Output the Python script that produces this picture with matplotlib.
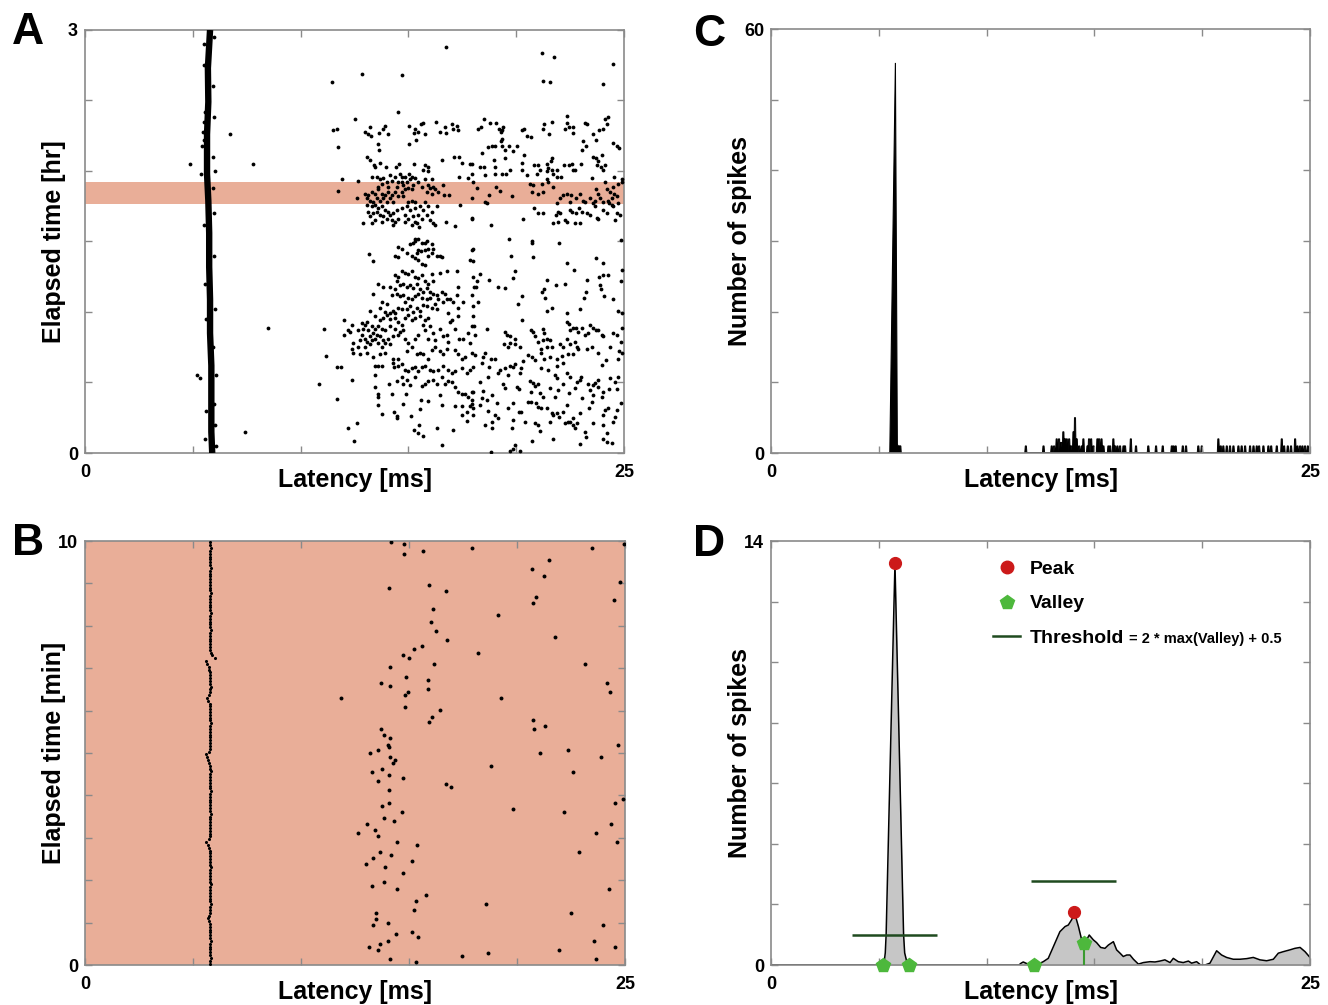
import matplotlib
matplotlib.use('Agg')
import matplotlib.pyplot as plt
from matplotlib.lines import Line2D

plt.rcParams['font.family'] = ['Liberation Sans', 'DejaVu Sans']
plt.rcParams['font.weight'] = 'bold'
plt.rcParams['axes.labelweight'] = 'bold'

# ---------------- DATA ----------------
# Panel A: time-locked (first) response band, latency [ms] vs elapsed time [hr]
a_line_lat = [5.90, 5.86, 5.86, 5.86, 5.80, 5.80, 5.76, 5.76, 5.72, 5.66, 5.66, 5.72, 5.70, 5.80]
a_line_hr = [0.00, 0.15, 0.38, 0.62, 0.85, 1.09, 1.32, 1.56, 1.79, 1.98, 2.26, 2.49, 2.73, 3.00]
# Panel A: scattered spikes (latency ms, time hr)
a_pts_left = [(6.74, 2.26), (4.88, 2.05), (7.77, 2.05), (8.5, 0.89), (5.18, 0.55), (5.33, 0.53), (7.42, 0.15),
              (5.37, 1.98), (6.02, 2.0), (5.45, 2.28), (5.5, 2.22), (5.42, 2.18), (5.52, 2.35), (5.95, 2.1),
              (5.98, 1.4), (6.0, 0.35), (6.05, 0.2), (5.55, 0.1), (5.95, 2.6), (5.5, 2.75), (5.96, 0.75), (5.58, 1.2),
              (5.52, 2.9), (6.0, 2.95), (5.98, 1.7), (5.52, 1.62), (6.04, 1.02), (5.62, 0.95), (6.06, 0.55),
              (5.62, 0.3), (6.08, 0.05), (5.58, 2.42), (5.98, 2.38), (5.94, 1.88)]
a_pts_upper_mid = [
    (16.73, 2.88), (12.83, 2.69), (14.72, 2.68), (11.47, 2.63), (14.52, 2.42), (12.53, 2.37), (11.52, 2.29),
    (11.69, 2.30), (12.99, 2.28), (13.11, 2.26), (13.25, 2.25), (13.22, 2.31), (13.64, 2.27), (13.84, 2.30),
    (13.92, 2.32), (14.07, 2.26), (15.05, 2.32), (15.31, 2.30), (15.28, 2.27), (15.59, 2.33), (15.69, 2.34),
    (15.46, 2.28), (15.77, 2.26), (16.28, 2.35), (16.47, 2.28), (16.70, 2.31), (16.73, 2.27), (17.04, 2.33),
    (17.09, 2.30), (17.27, 2.32), (17.29, 2.29), (11.75, 2.17), (13.61, 2.19), (13.64, 2.15), (15.05, 2.19),
    (15.34, 2.22), (13.10, 2.10), (13.22, 2.08), (13.39, 2.04), (13.45, 2.03), (13.68, 2.06), (13.96, 2.03),
    (14.43, 2.03), (14.57, 2.05), (15.25, 2.05), (15.77, 2.04), (15.90, 2.03), (15.69, 2.01), (15.93, 2.00),
    (16.54, 2.08), (17.13, 2.10), (17.36, 2.10), (17.47, 2.06), (17.86, 2.05), (11.91, 1.94), (12.65, 1.93),
    (13.33, 1.96), (13.53, 1.96), (13.68, 1.94), (13.84, 1.95), (14.15, 1.97), (14.38, 1.96), (14.61, 1.98),
    (14.72, 1.96), (14.84, 1.96), (15.05, 1.98), (15.15, 1.96), (15.31, 1.95), (15.08, 1.94), (14.92, 1.92),
    (14.72, 1.92), (14.54, 1.92), (14.23, 1.93), (14.00, 1.92), (13.76, 1.91), (13.61, 1.89), (14.07, 1.89),
    (14.46, 1.89), (14.77, 1.90), (15.23, 1.90), (15.46, 1.92), (15.77, 1.94), (16.08, 1.94), (17.36, 1.96),
    (17.78, 1.95), (17.94, 1.98), (18.01, 1.92),
    (11.75, 1.86), (12.60, 1.81), (12.99, 1.84), (13.14, 1.83), (13.30, 1.85), (13.45, 1.84), (13.61, 1.87),
    (13.76, 1.84), (13.92, 1.83), (14.07, 1.85), (14.23, 1.83), (14.38, 1.85), (14.69, 1.85), (14.84, 1.87),
    (15.00, 1.88), (14.54, 1.82), (14.77, 1.82), (15.15, 1.87), (15.62, 1.89), (15.93, 1.90), (16.00, 1.88),
    (16.16, 1.89), (16.24, 1.87), (15.85, 1.85), (16.08, 1.84), (16.39, 1.85), (16.62, 1.90), (16.67, 1.83),
    (16.88, 1.83), (15.77, 1.78), (13.07, 1.81), (13.22, 1.79), (13.38, 1.78), (13.53, 1.81), (13.68, 1.79),
    (13.84, 1.81), (14.00, 1.78), (14.15, 1.81), (14.30, 1.78), (15.15, 1.79), (15.31, 1.78), (15.00, 1.78),
    (13.07, 1.76), (13.30, 1.75), (13.45, 1.76), (13.61, 1.74), (13.76, 1.75), (13.92, 1.72), (14.07, 1.71),
    (14.15, 1.69), (14.30, 1.70), (14.46, 1.72), (13.14, 1.71), (13.38, 1.70), (13.53, 1.71), (13.68, 1.69),
    (13.84, 1.68), (14.00, 1.66), (14.23, 1.65), (14.38, 1.64), (14.54, 1.66), (13.22, 1.68), (13.45, 1.65),
    (14.69, 1.74), (14.92, 1.75), (15.08, 1.72), (15.31, 1.74), (15.54, 1.75), (15.69, 1.72), (15.93, 1.75),
    (16.08, 1.71), (16.31, 1.75), (14.84, 1.69), (15.00, 1.66), (15.23, 1.68), (15.46, 1.69), (15.62, 1.66),
    (15.85, 1.69), (16.00, 1.65), (16.16, 1.63), (16.24, 1.62), (15.31, 1.64), (15.39, 1.63), (15.15, 1.62),
    (14.84, 1.64), (12.91, 1.63), (13.30, 1.63), (13.76, 1.64), (14.30, 1.62), (15.49, 1.60), (16.73, 1.64),
    (17.16, 1.61), (17.40, 1.76), (17.94, 1.66), (15.31, 1.52), (15.46, 1.52), (15.77, 1.49), (15.23, 1.49)]
a_pts_upper_right = [
    (21.21, 2.84), (21.77, 2.81), (24.51, 2.76), (21.26, 2.64), (21.57, 2.63), (24.01, 2.62), (18.52, 2.37),
    (18.79, 2.34), (19.07, 2.34), (18.25, 2.30), (18.35, 2.31), (19.22, 2.30), (19.33, 2.29), (19.41, 2.31),
    (19.28, 2.28), (20.26, 2.29), (20.36, 2.30), (20.52, 2.25), (20.67, 2.24), (21.23, 2.30), (21.29, 2.33),
    (21.52, 2.26), (21.68, 2.35), (22.34, 2.39), (22.34, 2.34), (22.27, 2.30), (22.47, 2.31), (22.65, 2.31),
    (22.65, 2.27), (23.19, 2.34), (23.27, 2.33), (23.58, 2.26), (23.70, 2.22), (23.86, 2.29), (24.04, 2.30),
    (24.20, 2.33), (24.12, 2.37), (24.28, 2.38), (24.51, 2.20), (24.69, 2.18), (24.77, 2.16), (19.33, 2.23),
    (19.30, 2.21), (18.71, 2.17), (18.86, 2.18), (19.02, 2.18), (19.33, 2.18), (19.48, 2.15), (19.68, 2.18),
    (19.87, 2.14), (20.06, 2.18), (18.40, 2.13), (17.94, 2.05), (18.32, 2.03), (18.52, 2.03), (18.56, 1.97),
    (18.97, 2.08), (19.02, 2.03), (19.02, 1.98), (19.33, 1.98), (19.53, 1.98), (19.48, 2.09), (19.72, 2.01),
    (20.26, 2.06), (20.38, 2.11), (20.49, 1.97), (20.26, 2.01), (20.84, 2.04), (21.03, 2.04), (21.11, 2.01),
    (20.95, 1.98), (21.42, 2.05), (21.49, 2.02), (21.60, 2.07), (21.65, 2.09), (21.45, 2.00), (21.65, 2.01),
    (21.73, 1.98), (21.88, 2.01), (21.91, 1.96), (22.07, 1.96), (22.22, 2.04), (22.47, 2.04), (22.58, 2.05),
    (22.65, 2.01), (22.73, 2.01), (23.01, 2.05), (23.09, 2.21), (23.24, 2.18), (23.04, 2.15), (23.58, 2.10),
    (23.70, 2.09), (23.81, 2.07), (23.97, 2.11), (23.73, 2.04), (23.94, 2.03), (24.12, 2.04), (24.04, 2.01),
    (23.50, 1.95), (24.55, 1.96), (24.89, 1.94),
    (18.17, 1.88), (18.76, 1.83), (19.07, 1.89), (19.25, 1.86), (19.79, 1.82), (20.64, 1.91), (20.80, 1.90),
    (20.72, 1.85), (21.03, 1.84), (21.23, 1.85), (21.18, 1.91), (21.45, 1.94), (21.49, 1.92), (21.73, 1.89),
    (22.03, 1.81), (22.19, 1.83), (22.34, 1.84), (22.53, 1.83), (22.50, 1.78), (22.78, 1.81), (22.96, 1.84),
    (23.12, 1.79), (23.70, 1.87), (23.81, 1.84), (23.89, 1.81), (24.12, 1.92), (24.20, 1.87), (24.35, 1.85),
    (24.51, 1.89), (24.74, 1.91), (24.89, 1.92), (24.66, 1.82), (24.55, 1.84), (24.43, 1.81), (24.28, 1.79),
    (24.04, 1.78), (23.66, 1.79), (23.43, 1.81), (23.19, 1.78), (17.94, 1.81), (18.56, 1.78), (18.66, 1.77),
    (17.94, 1.67), (18.82, 1.62), (20.30, 1.66), (20.84, 1.74), (21.03, 1.70), (21.26, 1.70), (21.91, 1.77),
    (21.96, 1.71), (21.85, 1.69), (22.03, 1.70), (21.96, 1.64), (21.73, 1.63), (22.27, 1.65), (22.34, 1.64),
    (22.50, 1.72), (22.58, 1.71), (22.78, 1.70), (22.93, 1.74), (23.04, 1.71), (22.73, 1.63), (22.96, 1.63),
    (23.27, 1.70), (23.43, 1.69), (23.58, 1.77), (23.66, 1.75), (23.81, 1.66), (23.73, 1.67), (24.01, 1.72),
    (24.20, 1.70), (24.32, 1.77), (24.43, 1.76), (24.51, 1.75), (24.66, 1.70), (24.82, 1.69), (24.59, 1.65),
    (24.74, 1.77), (19.67, 1.52), (20.72, 1.50), (22.00, 1.49), (24.85, 1.51)]
a_pts_lower_mid = [
    (14.50, 1.46), (14.72, 1.45), (15.08, 1.48), (15.31, 1.50), (15.62, 1.49), (15.85, 1.50), (16.08, 1.48),
    (14.38, 1.40), (14.54, 1.39), (14.92, 1.42), (15.15, 1.40), (15.31, 1.38), (15.46, 1.37), (15.62, 1.34),
    (15.77, 1.33), (15.93, 1.40), (16.08, 1.42), (16.16, 1.45), (16.31, 1.40), (16.47, 1.40), (16.54, 1.39),
    (13.19, 1.41), (13.38, 1.36), (17.86, 1.37), (17.94, 1.44), (15.39, 1.42), (15.59, 1.43), (15.77, 1.44),
    (15.93, 1.45), (15.46, 1.44),
    (14.38, 1.26), (14.54, 1.25), (14.72, 1.29), (14.84, 1.28), (15.00, 1.27), (15.15, 1.29), (15.31, 1.25),
    (15.46, 1.24), (15.62, 1.26), (15.77, 1.22), (15.93, 1.20), (16.08, 1.27), (16.16, 1.22), (14.46, 1.22),
    (14.61, 1.19), (14.77, 1.20), (14.92, 1.18), (15.08, 1.19), (15.23, 1.17), (15.39, 1.20), (15.54, 1.16),
    (15.69, 1.14), (15.85, 1.17), (16.00, 1.14), (16.16, 1.13), (16.31, 1.12), (16.54, 1.14), (16.70, 1.13),
    (14.38, 1.16), (14.15, 1.18), (14.23, 1.12), (14.46, 1.13), (14.61, 1.11), (14.77, 1.12), (14.84, 1.07),
    (15.00, 1.10), (15.15, 1.09), (15.31, 1.11), (15.46, 1.13), (15.62, 1.10), (15.85, 1.09), (16.00, 1.10),
    (16.24, 1.06), (16.39, 1.09), (16.62, 1.07), (16.78, 1.09), (16.93, 1.09), (17.09, 1.07), (13.58, 1.20),
    (13.38, 1.13), (13.84, 1.18), (14.00, 1.06), (13.76, 1.07), (13.68, 1.03), (13.92, 1.00), (14.15, 0.995),
    (14.30, 1.01), (14.38, 0.99), (14.54, 1.03), (14.69, 1.02), (14.92, 1.02), (15.08, 1.04), (15.23, 1.00),
    (15.39, 1.03), (15.54, 1.01), (15.69, 1.05), (15.85, 1.04), (16.08, 1.03), (16.31, 1.02), (16.47, 1.28),
    (16.81, 1.29), (17.24, 1.29), (17.32, 1.18), (17.24, 1.12), (17.55, 1.07), (18.01, 1.25), (18.06, 1.18),
    (17.97, 1.12), (17.32, 1.03), (16.82, 0.99), (18.01, 0.97), (18.06, 0.90),
    (13.22, 1.01), (13.45, 0.97), (13.68, 0.94), (13.84, 0.96), (14.00, 0.98), (14.15, 0.95), (14.38, 0.96),
    (14.54, 0.93), (14.69, 0.91), (14.84, 0.96), (15.00, 0.98), (15.15, 0.94), (15.31, 0.96), (15.54, 0.97),
    (15.77, 0.94), (15.93, 0.96), (13.07, 0.93), (12.99, 0.91), (12.83, 0.92), (12.68, 0.87), (12.91, 0.88),
    (13.14, 0.87), (13.30, 0.90), (13.45, 0.88), (13.61, 0.90), (13.76, 0.88), (13.92, 0.87), (14.15, 0.90),
    (14.38, 0.88), (14.61, 0.86), (14.77, 0.87), (13.38, 0.85), (13.53, 0.84), (13.22, 0.83), (12.99, 0.81),
    (12.83, 0.84), (12.76, 0.80), (13.07, 0.79), (13.30, 0.80), (13.45, 0.81), (13.68, 0.83), (13.84, 0.80),
    (14.07, 0.81), (14.30, 0.83), (14.54, 0.84), (13.61, 0.78), (13.76, 0.75), (13.92, 0.78), (14.15, 0.77),
    (12.45, 0.78), (12.37, 0.74), (12.68, 0.75), (12.99, 0.75), (13.22, 0.77), (12.03, 0.94), (12.22, 0.87),
    (12.40, 0.91), (12.29, 0.86), (12.03, 0.84), (11.10, 0.88), (14.84, 0.81), (15.00, 0.78), (15.31, 0.81),
    (15.46, 0.84), (15.77, 0.87), (15.69, 0.91), (16.00, 0.90), (16.16, 0.85), (15.93, 0.81), (16.24, 0.80),
    (16.47, 0.88), (16.62, 0.83), (16.78, 0.84), (16.93, 0.93), (17.01, 0.94), (17.16, 0.88), (17.32, 0.97),
    (17.35, 0.81), (17.55, 0.81), (17.78, 0.85), (17.86, 0.78), (17.94, 0.90), (16.85, 0.79),
    (12.45, 0.71), (12.76, 0.70), (13.07, 0.71), (13.38, 0.68), (13.68, 0.70), (13.92, 0.71), (14.30, 0.67),
    (14.54, 0.67), (14.92, 0.72), (15.15, 0.75), (15.39, 0.70), (15.54, 0.71), (15.69, 0.70), (15.93, 0.67),
    (16.08, 0.73), (16.24, 0.75), (16.47, 0.72), (16.62, 0.70), (16.78, 0.74), (17.16, 0.73), (17.32, 0.70),
    (17.47, 0.67), (17.63, 0.68), (17.94, 0.71), (11.18, 0.69), (11.67, 0.61), (11.88, 0.61), (13.45, 0.62),
    (13.61, 0.62), (13.76, 0.62), (14.30, 0.64), (14.35, 0.61), (14.54, 0.62), (14.69, 0.63), (14.84, 0.59),
    (15.00, 0.58), (15.15, 0.60), (15.31, 0.61), (15.46, 0.58), (15.62, 0.61), (15.77, 0.62), (16.00, 0.59),
    (16.16, 0.58), (16.39, 0.59), (16.62, 0.62), (16.85, 0.59), (17.01, 0.57), (17.16, 0.58), (17.47, 0.60),
    (17.70, 0.57), (17.86, 0.59), (12.40, 0.52), (13.45, 0.55), (14.10, 0.49), (14.46, 0.51), (14.72, 0.54),
    (14.77, 0.49), (14.92, 0.52), (15.08, 0.48), (15.31, 0.54), (15.62, 0.475), (15.77, 0.49), (15.93, 0.51),
    (16.16, 0.52), (16.31, 0.49), (16.54, 0.54), (16.70, 0.49), (16.85, 0.51), (17.01, 0.50), (17.16, 0.47),
    (17.32, 0.435), (17.47, 0.42), (17.63, 0.42), (17.78, 0.40), (17.94, 0.435), (10.87, 0.49),
    (11.67, 0.38), (13.45, 0.47), (13.61, 0.42), (13.61, 0.40), (14.23, 0.42), (14.87, 0.42), (15.59, 0.376),
    (15.93, 0.37), (16.47, 0.41), (14.77, 0.35), (13.61, 0.34), (13.76, 0.28), (14.35, 0.29), (14.46, 0.26),
    (14.49, 0.25), (15.12, 0.26), (15.54, 0.31), (16.54, 0.34), (17.16, 0.33), (17.47, 0.33), (17.47, 0.27),
    (17.70, 0.29), (17.86, 0.33), (17.94, 0.376), (17.70, 0.23), (18.01, 0.27), (15.49, 0.20), (15.28, 0.16),
    (15.46, 0.14), (15.66, 0.12), (16.31, 0.175), (17.09, 0.16), (12.22, 0.18), (12.60, 0.21), (12.49, 0.085),
    (16.54, 0.06)]
a_pts_lower_right = [
    (18.01, 1.45), (17.98, 1.36), (19.76, 1.40), (20.72, 1.49), (20.77, 1.39), (22.34, 1.35), (22.68, 1.30),
    (23.69, 1.38), (24.01, 1.35), (24.89, 1.30), (24.85, 1.22), (18.32, 1.27), (18.20, 1.22), (18.12, 1.18),
    (18.73, 1.23), (19.17, 1.18), (19.48, 1.17), (19.84, 1.24), (19.95, 1.29), (21.45, 1.23), (21.29, 1.16),
    (21.21, 1.14), (21.34, 1.10), (21.85, 1.19), (22.27, 1.20), (23.27, 1.23), (23.24, 1.14), (23.16, 1.10),
    (23.86, 1.25), (24.04, 1.26), (24.28, 1.26), (23.89, 1.19), (23.94, 1.16), (24.09, 1.11), (24.51, 1.09),
    (20.26, 1.11), (20.07, 1.06), (18.25, 1.07), (18.01, 1.04), (21.45, 1.01), (21.65, 1.03), (22.34, 0.99),
    (22.96, 1.02), (24.74, 1.01), (24.89, 0.99), (20.29, 0.94), (18.63, 0.88), (18.09, 0.84), (19.48, 0.86),
    (19.56, 0.84), (19.72, 0.83), (19.95, 0.81), (19.72, 0.78), (19.95, 0.77), (20.18, 0.75), (19.64, 0.75),
    (19.45, 0.77), (20.69, 0.87), (20.80, 0.86), (21.23, 0.88), (21.29, 0.85), (20.87, 0.83), (21.00, 0.79),
    (21.26, 0.80), (21.42, 0.81), (21.57, 0.80), (21.14, 0.74), (21.42, 0.755), (21.65, 0.755), (22.03, 0.77),
    (22.16, 0.755), (22.34, 0.81), (22.50, 0.77), (22.73, 0.79), (22.81, 0.755), (22.34, 0.93), (22.45, 0.915),
    (22.50, 0.87), (22.65, 0.885), (22.78, 0.89), (22.88, 0.86), (23.04, 0.885), (23.19, 0.84), (23.35, 0.85),
    (23.43, 0.91), (23.55, 0.89), (23.70, 0.87), (23.81, 0.87), (23.97, 0.84), (24.04, 0.83), (24.51, 0.85),
    (24.66, 0.84), (24.85, 0.79), (24.89, 0.885), (24.79, 0.72), (24.89, 0.71), (24.74, 0.67), (22.65, 0.70),
    (22.88, 0.74), (23.27, 0.735), (23.50, 0.755), (23.81, 0.71), (24.35, 0.75), (24.17, 0.66), (23.97, 0.625),
    (18.09, 0.695), (18.56, 0.71), (18.48, 0.68), (18.83, 0.665), (19.02, 0.67), (18.40, 0.64), (18.01, 0.61),
    (18.74, 0.61), (19.25, 0.59), (19.48, 0.60), (19.72, 0.62), (19.87, 0.61), (19.95, 0.63), (20.21, 0.60),
    (20.33, 0.65), (20.57, 0.695), (20.72, 0.68), (20.87, 0.66), (21.14, 0.71), (21.31, 0.67), (21.57, 0.68),
    (21.88, 0.665), (22.11, 0.69), (21.91, 0.62), (22.19, 0.64), (22.42, 0.70), (21.49, 0.59), (21.14, 0.60),
    (20.18, 0.565), (19.64, 0.55), (19.17, 0.57), (18.71, 0.54), (18.32, 0.506), (21.80, 0.55), (21.88, 0.53),
    (22.34, 0.565), (22.50, 0.54), (22.81, 0.506), (23.01, 0.54), (22.96, 0.52), (23.35, 0.49), (23.58, 0.48),
    (23.66, 0.494), (23.81, 0.52), (24.35, 0.53), (24.59, 0.506), (24.74, 0.54), (19.41, 0.49), (19.48, 0.46),
    (20.02, 0.47), (20.15, 0.454), (20.64, 0.51), (20.80, 0.494), (20.87, 0.476), (21.03, 0.49), (20.69, 0.435),
    (21.11, 0.424), (21.26, 0.40), (21.57, 0.46), (21.80, 0.40), (21.96, 0.447), (22.19, 0.49), (22.47, 0.424),
    (22.73, 0.46), (23.04, 0.388), (23.43, 0.447), (23.58, 0.412), (23.81, 0.47), (23.97, 0.40), (24.01, 0.435),
    (24.32, 0.452), (24.66, 0.452), (18.01, 0.435), (18.48, 0.442), (18.40, 0.388), (18.63, 0.376), (18.86, 0.41),
    (19.10, 0.357), (17.94, 0.35), (18.01, 0.317), (18.32, 0.341), (18.71, 0.30), (19.02, 0.27), (19.64, 0.317),
    (19.84, 0.353), (20.15, 0.294), (20.23, 0.294), (20.53, 0.364), (20.67, 0.36), (20.92, 0.353), (21.03, 0.329),
    (21.15, 0.317), (21.42, 0.317), (21.65, 0.282), (21.73, 0.27), (21.88, 0.282), (22.00, 0.258), (22.19, 0.289),
    (22.37, 0.341), (22.65, 0.246), (22.50, 0.223), (22.84, 0.211), (22.96, 0.282), (23.39, 0.317), (23.50, 0.364),
    (24.04, 0.27), (24.12, 0.305), (24.28, 0.317), (24.59, 0.258), (24.66, 0.305), (24.85, 0.353), (18.56, 0.199),
    (18.90, 0.223), (18.86, 0.175), (19.14, 0.251), (19.84, 0.234), (19.79, 0.175), (20.41, 0.223), (20.87, 0.211),
    (21.03, 0.199), (21.11, 0.156), (21.57, 0.223), (21.73, 0.10), (22.27, 0.216), (22.42, 0.223), (22.62, 0.199),
    (22.73, 0.175), (23.19, 0.152), (23.24, 0.116), (23.58, 0.216), (24.04, 0.199), (24.23, 0.14), (24.51, 0.223),
    (24.04, 0.097), (24.23, 0.081), (24.43, 0.069), (20.72, 0.085), (19.95, 0.057), (19.72, 0.017), (19.87, 0.026),
    (20.18, 0.017), (18.83, 0.01), (22.96, 0.064)]
a_band_hr = (1.765, 1.921)

# Panel B: 10-minute window (first response per stimulus every 4 s)
b_line_time_s = [2, 6, 10, 14, 18, 22, 26, 30, 34, 38, 42, 46, 50, 54, 58, 62, 66, 70, 74, 78,
                 82, 86, 90, 94, 98, 102, 106, 110, 114, 118, 122, 126, 130, 134, 138, 142, 146, 150, 154, 158,
                 162, 166, 170, 174, 178, 182, 186, 190, 194, 198, 202, 206, 210, 214, 218, 222, 226, 230, 234, 238,
                 242, 246, 250, 254, 258, 262, 266, 270, 274, 278, 282, 286, 290, 294, 298, 302, 306, 310, 314, 318,
                 322, 326, 330, 334, 338, 342, 346, 350, 354, 358, 362, 366, 370, 374, 378, 382, 386, 390, 394, 398,
                 402, 406, 410, 414, 418, 422, 426, 430, 434, 438, 442, 446, 450, 454, 458, 462, 466, 470, 474, 478,
                 482, 486, 490, 494, 498, 502, 506, 510, 514, 518, 522, 526, 530, 534, 538, 542, 546, 550, 554, 558,
                 562, 566, 570, 574, 578, 582, 586, 590, 594, 598]
b_line_lat = [5.81, 5.80, 5.82, 5.79, 5.80, 5.81, 5.78, 5.80, 5.82, 5.80,
              5.79, 5.81, 5.80, 5.78, 5.80, 5.74, 5.70, 5.76, 5.80, 5.81,
              5.80, 5.82, 5.79, 5.80, 5.81, 5.80, 5.78, 5.80, 5.82, 5.79,
              5.80, 5.81, 5.79, 5.80, 5.82, 5.80, 5.78, 5.79, 5.81, 5.80,
              5.78, 5.76, 5.70, 5.62, 5.72, 5.78, 5.80, 5.81, 5.79, 5.80,
              5.81, 5.79, 5.80, 5.82, 5.80, 5.78, 5.80, 5.81, 5.79, 5.80,
              5.80, 5.82, 5.79, 5.78, 5.80, 5.81, 5.80, 5.79, 5.82, 5.80,
              5.78, 5.76, 5.70, 5.66, 5.60, 5.72, 5.78, 5.80, 5.79, 5.81,
              5.79, 5.81, 5.80, 5.78, 5.80, 5.82, 5.79, 5.80, 5.77, 5.80,
              5.81, 5.78, 5.80, 5.70, 5.66, 5.74, 5.78, 5.80, 5.82, 5.80,
              5.79, 5.80, 5.81, 5.78, 5.76, 5.72, 5.66, 5.60, 6.03, 5.86,
              5.82, 5.80, 5.80, 5.79, 5.81, 5.80, 5.78, 5.80, 5.82, 5.79,
              5.80, 5.81, 5.79, 5.80, 5.82, 5.80, 5.78, 5.80, 5.81, 5.79,
              5.80, 5.82, 5.79, 5.80, 5.81, 5.78, 5.80, 5.79, 5.81, 5.80,
              5.82, 5.80, 5.79, 5.81, 5.80, 5.78, 5.80, 5.82, 5.80, 5.81]
b_pts_upper = [
    (14.15, 9.98), (14.77, 9.92), (14.77, 9.69), (15.66, 9.77), (17.9, 9.84), (23.48, 9.84), (24.95, 9.92),
    (21.48, 9.55), (20.69, 9.33), (21.26, 9.18), (24.76, 9.04), (14.09, 8.9), (15.91, 8.97), (16.7, 8.82),
    (20.89, 8.68), (20.74, 8.54), (24.49, 8.61), (16.09, 8.4), (19.1, 8.25), (16.02, 8.1), (16.25, 7.88),
    (16.74, 7.66), (21.77, 7.74), (15.58, 7.53), (15.23, 7.45), (14.7, 7.31), (14.98, 7.23), (18.18, 7.37),
    (14.13, 7.02), (16.14, 7.09), (23.13, 7.09), (14.86, 6.8), (15.86, 6.72), (13.7, 6.66), (14.1, 6.58),
    (15.89, 6.51), (14.94, 6.44), (14.81, 6.37), (24.16, 6.66), (24.29, 6.44), (11.83, 6.29), (19.24, 6.29),
    (14.81, 6.08), (16.42, 6.01), (16.06, 5.86), (15.94, 5.72), (20.74, 5.79), (20.77, 5.57), (21.29, 5.64),
    (13.7, 5.57), (13.82, 5.42), (14.1, 5.35), (14.01, 5.2), (24.67, 5.2)]
b_pts_lower = [
    (13.18, 4.99), (13.55, 5.06), (14.09, 5.13), (14.13, 4.91), (14.33, 4.84), (14.27, 4.77), (21.05, 4.99),
    (22.37, 5.06), (23.88, 4.91), (13.3, 4.55), (13.73, 4.62), (14.06, 4.47), (13.58, 4.33), (14.73, 4.41),
    (18.78, 4.69), (22.6, 4.55), (16.69, 4.26), (16.93, 4.19), (14.06, 4.12), (14.06, 3.83), (13.73, 3.75),
    (14.66, 3.61), (19.8, 3.68), (22.17, 3.61), (24.56, 3.83), (24.92, 3.91), (13.86, 3.47), (14.3, 3.39),
    (13.05, 3.32), (13.41, 3.18), (13.55, 3.04), (12.65, 3.11), (24.33, 3.32), (23.68, 3.11), (24.61, 2.89),
    (14.46, 2.89), (15.38, 2.82), (13.65, 2.67), (14.15, 2.6), (13.33, 2.53), (13.02, 2.38), (13.9, 2.31),
    (15.14, 2.45), (14.73, 2.16), (22.88, 2.67), (13.82, 1.95), (13.3, 1.87), (14.46, 1.8), (15.81, 1.65),
    (15.34, 1.51), (15.21, 1.3), (18.56, 1.43), (24.27, 1.8), (22.48, 1.22), (23.99, 0.94), (13.45, 1.22),
    (13.48, 1.08), (13.33, 0.94), (14.01, 1.0), (15.14, 0.78), (14.41, 0.72), (15.41, 0.65), (14.02, 0.57),
    (13.65, 0.5), (13.13, 0.43), (13.55, 0.35), (14.1, 0.14), (15.34, 0.07), (17.47, 0.21), (18.68, 0.28),
    (21.96, 0.35), (23.56, 0.57), (24.53, 0.43), (23.67, 0.14)]

# Panel C: histogram (latency ms, number of spikes)
c_peak_lat = [5.45, 5.51, 5.77, 5.86, 5.90, 6.02, 6.04]
c_peak_count = [0, 0, 55.2, 1.2, 1.0, 1.0, 0]
c_late_lat = [11.82, 12.64, 13.02, 13.13, 13.25, 13.36, 13.46, 13.56, 13.64, 13.72, 13.83, 13.92, 14.03, 14.10,
              14.18, 14.29, 14.41, 14.49, 14.68, 14.75, 14.85, 14.96, 15.14, 15.22, 15.33, 15.42, 15.65, 15.73,
              15.88, 15.96, 16.07, 16.19, 16.35, 16.42, 16.69, 16.93, 17.50, 17.86, 18.17, 18.59, 18.67, 18.77,
              19.10, 19.25, 19.82, 19.98, 20.75, 20.86, 20.98, 21.14, 21.29, 21.45, 21.68, 21.83, 21.99, 22.22,
              22.38, 22.53, 22.64, 22.84, 23.07, 23.20, 23.46, 23.69, 23.80, 23.97, 24.12, 24.31, 24.42, 24.54,
              24.65, 24.77, 24.90]
c_late_count = [1, 1, 1, 1, 2, 2, 1.5, 3, 2, 2, 2, 1, 3, 5,
                2, 1, 1, 2, 1, 2, 2, 1, 2, 2, 2, 1, 1, 1,
                2, 1, 1, 1, 1, 1, 2, 1, 1, 1, 1, 1, 1, 1,
                1, 1, 1, 1, 2, 1, 1, 1, 1, 1, 1, 1, 1, 1,
                1, 1, 1, 1, 1, 1, 1, 2, 1, 1, 1, 2, 1, 1,
                1, 1, 1]

# Panel D: smoothed histogram with peaks, valleys and thresholds
d_lat = [0, 5.2, 5.25, 5.3, 5.34, 5.4, 5.5, 5.6, 5.7, 5.75, 5.8, 5.9, 6.0, 6.1, 6.15, 6.2, 6.3, 6.4,
         11.5, 11.6, 11.7, 11.85, 12.0, 12.2, 12.45, 12.63, 12.86, 13.1, 13.4, 13.64, 13.79, 13.95, 14.07,
         14.26, 14.41, 14.52, 14.64, 14.76, 14.95, 15.1, 15.29, 15.49, 15.65, 15.88, 16.03, 16.19, 16.34,
         16.5, 16.65, 16.81, 17.04, 17.27, 17.58, 17.81, 18.04, 18.27, 18.51, 18.66, 18.89, 19.12, 19.36,
         19.51, 19.74, 19.93, 20.13, 20.36, 20.67, 20.9, 21.13, 21.44, 21.75, 22.06, 22.37, 22.68, 22.99,
         23.3, 23.53, 23.76, 24.07, 24.3, 24.54, 24.77, 25.0]
d_count = [0, 0, 0.1, 0.4, 1.0, 2.8, 5.8, 8.8, 11.8, 13.26, 11.7, 8.7, 5.6, 2.5, 1.0, 0.4, 0.1, 0,
           0, 0.06, 0.1, 0.05, 0.02, 0, 0.05, 0.11, 0.22, 0.61, 1.1, 1.27, 1.32, 1.5, 1.74,
           1.27, 0.83, 0.72, 0.83, 0.99, 0.83, 0.74, 0.58, 0.55, 0.66, 0.77, 0.5, 0.39, 0.28,
           0.33, 0.33, 0.19, 0.03, 0.08, 0.11, 0.1, 0.13, 0.17, 0.08, 0.22, 0.11, 0.08, 0.13,
           0.06, 0.11, 0.0, 0.0, 0.06, 0.47, 0.33, 0.25, 0.19, 0.19, 0.21, 0.25, 0.17, 0.14,
           0.19, 0.39, 0.44, 0.5, 0.55, 0.58, 0.44, 0.25]
d_peak_lat = [5.75, 14.07]
d_peak_count = [13.26, 1.74]
d_valley_lat = [5.21, 6.40, 12.20, 14.52]
d_valley_count = [0, 0, 0, 0.72]
d_thr_start = [3.74, 12.06]
d_thr_end = [7.68, 16.00]
d_thr_level = [0.99, 2.78]

# ticks
x_ticks = [0, 5, 10, 15, 20, 25]
x_ticklabels = ['0', '', '', '', '', '25']
a_yticks = [0, 0.5, 1, 1.5, 2, 2.5, 3]
a_yticklabels = ['0', '', '', '', '', '', '3']
b_yticks = [0, 1, 2, 3, 4, 5, 6, 7, 8, 9, 10]
b_yticklabels = ['0', '', '', '', '', '', '', '', '', '', '10']
c_yticks = [0, 10, 20, 30, 40, 50, 60]
c_yticklabels = ['0', '', '', '', '', '', '60']
d_yticks = [0, 2, 4, 6, 8, 10, 12, 14]
d_yticklabels = ['0', '', '', '', '', '', '', '14']

# ---------------- STYLE ----------------
SALMON = '#E9AE98'
RED = '#CC1A1A'
GREEN = '#4DB83C'
DKGREEN = '#1F4A1F'
SPINE = '#8a8a8a'

W, H = 1328, 1005
fig = plt.figure(figsize=(W / 100, H / 100), dpi=100)


def axes_px(l, t, r, b):
    return fig.add_axes([l / W, 1 - b / H, (r - l) / W, (b - t) / H])


def style(ax, yt, yl, ylabel, xlim, ylim):
    ax.set_xlim(*xlim)
    ax.set_ylim(*ylim)
    ax.set_xticks(x_ticks)
    ax.set_xticklabels(x_ticklabels)
    ax.set_yticks(yt)
    ax.set_yticklabels(yl)
    ax.tick_params(direction='in', length=5, width=1, color=SPINE, top=True, right=True,
                   labelsize=13, labelcolor='black')
    ax.tick_params(axis='x', pad=8)
    ax.tick_params(axis='y', pad=5)
    for s in ax.spines.values():
        s.set_color(SPINE)
        s.set_linewidth(1.2)
    ax.set_xlabel('Latency [ms]', fontsize=18, fontweight='bold')
    ax.xaxis.set_label_coords(0.5, -0.035)
    ax.set_ylabel(ylabel, fontsize=18, fontweight='bold')
    ax.yaxis.set_label_coords(-0.036, 0.5)


axA = axes_px(85, 30, 624, 453)
axB = axes_px(85, 541, 625, 965)
axC = axes_px(771, 29, 1310, 453)
axD = axes_px(771, 541, 1310, 965)

# ---- Panel A ----
axA.axhspan(a_band_hr[0], a_band_hr[1], color=SALMON, lw=0, zorder=0)
axA.plot(a_line_lat, a_line_hr, color='black', lw=4.6, solid_capstyle='butt', zorder=3)
for pts in (a_pts_left, a_pts_upper_mid, a_pts_upper_right, a_pts_lower_mid, a_pts_lower_right):
    xs = [p[0] for p in pts]
    ys = [p[1] for p in pts]
    axA.scatter(xs, ys, s=7.5, color='black', linewidths=0, zorder=3)
style(axA, a_yticks, a_yticklabels, 'Elapsed time [hr]', (0, 25), (0, 3))

# ---- Panel B ----
axB.set_facecolor(SALMON)
axB.scatter(b_line_lat, [t / 60 for t in b_line_time_s], s=5, color='black', linewidths=0, zorder=3)
for pts in (b_pts_upper, b_pts_lower):
    axB.scatter([p[0] for p in pts], [p[1] for p in pts], s=8, color='black', linewidths=0, zorder=3)
style(axB, b_yticks, b_yticklabels, 'Elapsed time [min]', (0, 25), (0, 10))

# ---- Panel C ----
axC.fill(c_peak_lat, c_peak_count, color='black', lw=0.8)
late_x, late_y = [], []
for x, c in zip(c_late_lat, c_late_count):
    late_x += [x - 0.05, x - 0.025, x + 0.025, x + 0.05]
    late_y += [0, c, c, 0]
axC.fill(late_x, late_y, color='black', lw=0.7)
style(axC, c_yticks, c_yticklabels, 'Number of spikes', (0, 25), (0, 60))

# ---- Panel D ----
axD.fill_between(d_lat, d_count, 0, color='#C6C6C6', lw=0, zorder=1)
axD.plot(d_lat, d_count, color='black', lw=1.1, zorder=2)
axD.hlines(d_thr_level, d_thr_start, d_thr_end, color=DKGREEN, lw=1.8, zorder=3)
for x, y in zip(d_valley_lat, d_valley_count):
    if y > 0:
        axD.vlines(x, 0, y, color='#3A9A30', lw=1.5, zorder=3)
axD.plot(d_valley_lat, d_valley_count, ls='none', marker='p', ms=10, color=GREEN, mec=GREEN,
         zorder=5, clip_on=False)
axD.plot(d_peak_lat, d_peak_count, ls='none', marker='o', ms=8.5, color=RED, mec=RED, zorder=5,
         clip_on=False)
style(axD, d_yticks, d_yticklabels, 'Number of spikes', (0, 25), (0, 14))

handles = [Line2D([], [], ls='none', marker='o', ms=9, color=RED, mec=RED),
           Line2D([], [], ls='none', marker='p', ms=10, color=GREEN, mec=GREEN),
           Line2D([], [], color=DKGREEN, lw=1.8)]
leg = axD.legend(handles, ['Peak', 'Valley', 'Threshold'], loc='upper left',
                 bbox_to_anchor=(0.412, 0.955), frameon=False, borderpad=0, borderaxespad=0,
                 handlelength=1.4, handletextpad=0.5, labelspacing=0.88,
                 prop={'size': 14, 'weight': 'bold'})

# panel letters
fig.text(12 / W, 1 - 44 / H, 'A', fontsize=32, fontweight='bold', va='baseline', ha='left')
fig.text(12 / W, 1 - 555 / H, 'B', fontsize=32, fontweight='bold', va='baseline', ha='left')
fig.text(693 / W, 1 - 46 / H, 'C', fontsize=32, fontweight='bold', va='baseline', ha='left')
fig.text(693 / W, 1 - 556 / H, 'D', fontsize=32, fontweight='bold', va='baseline', ha='left')

# formula next to the Threshold legend entry
fig.canvas.draw()
thr_text = leg.get_texts()[2]
bb = thr_text.get_window_extent(fig.canvas.get_renderer())
inv = fig.transFigure.inverted()
x0, y0 = inv.transform((bb.x1 + 5, bb.y0 + 1))
fig.text(x0, y0, '= 2 * max(Valley) + 0.5', fontsize=10.5, fontweight='bold', va='bottom', ha='left')

fig.savefig('out.png', dpi=100)
